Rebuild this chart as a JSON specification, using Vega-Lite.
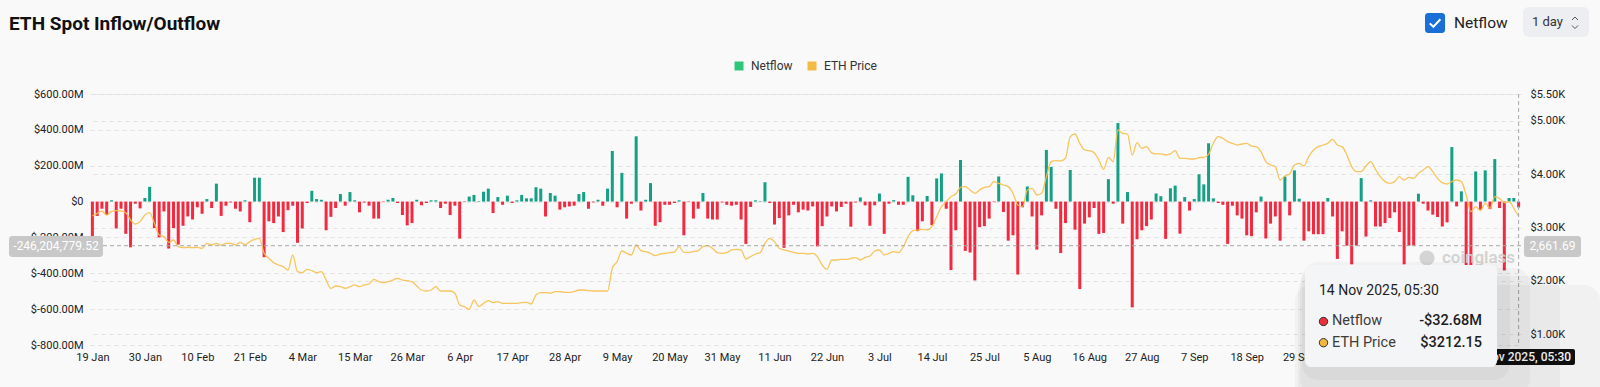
{
"$schema": "https://vega.github.io/schema/vega-lite/v6.json",
"width": 1431, "height": 251,
"autosize": {"type": "none"},
"padding": {"left": 90, "top": 94, "right": 79, "bottom": 42},
"background": "#f9f9f9",
"config": {"view": {"stroke": null}, "font": "Roboto",
  "axis": {"domain": false, "ticks": false, "labelFont": "Roboto", "labelFontSize": 11, "labelColor": "#222", "gridColor": "#e3e3e3", "gridDash": [4, 4], "gridWidth": 1, "labelOverlap": false}},
"data": {"values": [
{"date":"2025-01-19","netflow":-230,"price":3216},{"date":"2025-01-20","netflow":-80,"price":3266},{"date":"2025-01-21","netflow":-40,"price":3309},{"date":"2025-01-22","netflow":-75,"price":3234},{"date":"2025-01-23","netflow":7,"price":3297},{"date":"2025-01-24","netflow":-150,"price":3315},{"date":"2025-01-25","netflow":-40,"price":3309},{"date":"2025-01-26","netflow":-180,"price":3278},{"date":"2025-01-27","netflow":-255,"price":3141},{"date":"2025-01-28","netflow":-12,"price":3066},{"date":"2025-01-29","netflow":-38,"price":3110},{"date":"2025-01-30","netflow":20,"price":3234},{"date":"2025-01-31","netflow":82,"price":3278},
{"date":"2025-02-01","netflow":-148,"price":3078},{"date":"2025-02-02","netflow":-200,"price":2860},{"date":"2025-02-03","netflow":-55,"price":2829},{"date":"2025-02-04","netflow":-262,"price":2723},{"date":"2025-02-05","netflow":-148,"price":2766},{"date":"2025-02-06","netflow":-240,"price":2641},{"date":"2025-02-07","netflow":-135,"price":2623},{"date":"2025-02-08","netflow":-83,"price":2629},{"date":"2025-02-09","netflow":-100,"price":2623},{"date":"2025-02-10","netflow":-32,"price":2629},{"date":"2025-02-11","netflow":-68,"price":2610},{"date":"2025-02-12","netflow":14,"price":2704},{"date":"2025-02-13","netflow":-36,"price":2673},{"date":"2025-02-14","netflow":100,"price":2704},{"date":"2025-02-15","netflow":-80,"price":2666},{"date":"2025-02-16","netflow":-23,"price":2704},{"date":"2025-02-17","netflow":-5,"price":2704},{"date":"2025-02-18","netflow":-40,"price":2673},{"date":"2025-02-19","netflow":-55,"price":2723},{"date":"2025-02-20","netflow":7,"price":2679},{"date":"2025-02-21","netflow":-115,"price":2735},{"date":"2025-02-22","netflow":133,"price":2779},{"date":"2025-02-23","netflow":133,"price":2797},{"date":"2025-02-24","netflow":-310,"price":2517},{"date":"2025-02-25","netflow":-110,"price":2423},{"date":"2025-02-26","netflow":-120,"price":2342},{"date":"2025-02-27","netflow":-83,"price":2298},{"date":"2025-02-28","netflow":-170,"price":2267},
{"date":"2025-03-01","netflow":-48,"price":2204},{"date":"2025-03-02","netflow":-23,"price":2485},{"date":"2025-03-03","netflow":-230,"price":2173},{"date":"2025-03-04","netflow":-150,"price":2155},{"date":"2025-03-05","netflow":-8,"price":2217},{"date":"2025-03-06","netflow":60,"price":2192},{"date":"2025-03-07","netflow":14,"price":2155},{"date":"2025-03-08","netflow":10,"price":2173},{"date":"2025-03-09","netflow":-160,"price":2017},{"date":"2025-03-10","netflow":-85,"price":1861},{"date":"2025-03-11","netflow":-36,"price":1905},{"date":"2025-03-12","netflow":42,"price":1892},{"date":"2025-03-13","netflow":-23,"price":1861},{"date":"2025-03-14","netflow":53,"price":1892},{"date":"2025-03-15","netflow":7,"price":1924},{"date":"2025-03-16","netflow":-60,"price":1892},{"date":"2025-03-17","netflow":-5,"price":1924},{"date":"2025-03-18","netflow":-23,"price":1942},{"date":"2025-03-19","netflow":-95,"price":2030},{"date":"2025-03-20","netflow":-95,"price":1986},{"date":"2025-03-21","netflow":-3,"price":1967},{"date":"2025-03-22","netflow":10,"price":1986},{"date":"2025-03-23","netflow":20,"price":2017},{"date":"2025-03-24","netflow":-8,"price":2048},{"date":"2025-03-25","netflow":-75,"price":2017},{"date":"2025-03-26","netflow":-133,"price":2005},{"date":"2025-03-27","netflow":-120,"price":1986},{"date":"2025-03-28","netflow":10,"price":1905},{"date":"2025-03-29","netflow":-21,"price":1830},{"date":"2025-03-30","netflow":-8,"price":1811},{"date":"2025-03-31","netflow":7,"price":1830},
{"date":"2025-04-01","netflow":7,"price":1892},{"date":"2025-04-02","netflow":-36,"price":1811},{"date":"2025-04-03","netflow":-12,"price":1811},{"date":"2025-04-04","netflow":-75,"price":1811},{"date":"2025-04-05","netflow":-23,"price":1768},{"date":"2025-04-06","netflow":-207,"price":1549},{"date":"2025-04-07","netflow":-3,"price":1518},{"date":"2025-04-08","netflow":28,"price":1468},{"date":"2025-04-09","netflow":37,"price":1643},{"date":"2025-04-10","netflow":3,"price":1518},{"date":"2025-04-11","netflow":55,"price":1580},{"date":"2025-04-12","netflow":72,"price":1630},{"date":"2025-04-13","netflow":-64,"price":1593},{"date":"2025-04-14","netflow":25,"price":1611},{"date":"2025-04-15","netflow":-18,"price":1580},{"date":"2025-04-16","netflow":33,"price":1580},{"date":"2025-04-17","netflow":-8,"price":1580},{"date":"2025-04-18","netflow":7,"price":1580},{"date":"2025-04-19","netflow":37,"price":1593},{"date":"2025-04-20","netflow":18,"price":1599},{"date":"2025-04-21","netflow":18,"price":1568},{"date":"2025-04-22","netflow":80,"price":1736},{"date":"2025-04-23","netflow":72,"price":1780},{"date":"2025-04-24","netflow":-83,"price":1780},{"date":"2025-04-25","netflow":48,"price":1768},{"date":"2025-04-26","netflow":33,"price":1799},{"date":"2025-04-27","netflow":-45,"price":1799},{"date":"2025-04-28","netflow":-32,"price":1786},{"date":"2025-04-29","netflow":-27,"price":1786},{"date":"2025-04-30","netflow":-23,"price":1799},
{"date":"2025-05-01","netflow":42,"price":1830},{"date":"2025-05-02","netflow":53,"price":1830},{"date":"2025-05-03","netflow":-40,"price":1817},{"date":"2025-05-04","netflow":-5,"price":1811},{"date":"2025-05-05","netflow":10,"price":1811},{"date":"2025-05-06","netflow":-23,"price":1811},{"date":"2025-05-07","netflow":72,"price":1811},{"date":"2025-05-08","netflow":282,"price":2236},{"date":"2025-05-09","netflow":-32,"price":2360},{"date":"2025-05-10","netflow":160,"price":2560},{"date":"2025-05-11","netflow":-95,"price":2517},{"date":"2025-05-12","netflow":-12,"price":2485},{"date":"2025-05-13","netflow":364,"price":2673},{"date":"2025-05-14","netflow":-50,"price":2567},{"date":"2025-05-15","netflow":10,"price":2548},{"date":"2025-05-16","netflow":103,"price":2517},{"date":"2025-05-17","netflow":-135,"price":2473},{"date":"2025-05-18","netflow":-115,"price":2504},{"date":"2025-05-19","netflow":-18,"price":2517},{"date":"2025-05-20","netflow":-18,"price":2529},{"date":"2025-05-21","netflow":-8,"price":2541},{"date":"2025-05-22","netflow":7,"price":2641},{"date":"2025-05-23","netflow":-188,"price":2535},{"date":"2025-05-24","netflow":-3,"price":2535},{"date":"2025-05-25","netflow":-95,"price":2548},{"date":"2025-05-26","netflow":-40,"price":2567},{"date":"2025-05-27","netflow":48,"price":2641},{"date":"2025-05-28","netflow":-95,"price":2660},{"date":"2025-05-29","netflow":-100,"price":2610},{"date":"2025-05-30","netflow":-100,"price":2529},{"date":"2025-05-31","netflow":-5,"price":2517},
{"date":"2025-06-01","netflow":-18,"price":2529},{"date":"2025-06-02","netflow":-23,"price":2579},{"date":"2025-06-03","netflow":-18,"price":2591},{"date":"2025-06-04","netflow":-100,"price":2579},{"date":"2025-06-05","netflow":-236,"price":2410},{"date":"2025-06-06","netflow":-30,"price":2454},{"date":"2025-06-07","netflow":7,"price":2504},{"date":"2025-06-08","netflow":3,"price":2529},{"date":"2025-06-09","netflow":108,"price":2704},{"date":"2025-06-10","netflow":-8,"price":2797},{"date":"2025-06-11","netflow":-128,"price":2735},{"date":"2025-06-12","netflow":-92,"price":2610},{"date":"2025-06-13","netflow":-258,"price":2579},{"date":"2025-06-14","netflow":-77,"price":2560},{"date":"2025-06-15","netflow":-18,"price":2535},{"date":"2025-06-16","netflow":-60,"price":2517},{"date":"2025-06-17","netflow":-45,"price":2517},{"date":"2025-06-18","netflow":-50,"price":2504},{"date":"2025-06-19","netflow":-27,"price":2517},{"date":"2025-06-20","netflow":-250,"price":2454},{"date":"2025-06-21","netflow":-137,"price":2298},{"date":"2025-06-22","netflow":-83,"price":2217},{"date":"2025-06-23","netflow":-27,"price":2392},{"date":"2025-06-24","netflow":-55,"price":2392},{"date":"2025-06-25","netflow":-30,"price":2404},{"date":"2025-06-26","netflow":-12,"price":2404},{"date":"2025-06-27","netflow":-140,"price":2423},{"date":"2025-06-28","netflow":-5,"price":2435},{"date":"2025-06-29","netflow":23,"price":2392},{"date":"2025-06-30","netflow":-21,"price":2442},
{"date":"2025-07-01","netflow":-135,"price":2467},{"date":"2025-07-02","netflow":-21,"price":2560},{"date":"2025-07-03","netflow":45,"price":2579},{"date":"2025-07-04","netflow":-180,"price":2485},{"date":"2025-07-05","netflow":-12,"price":2517},{"date":"2025-07-06","netflow":8,"price":2548},{"date":"2025-07-07","netflow":-18,"price":2529},{"date":"2025-07-08","netflow":-18,"price":2641},{"date":"2025-07-09","netflow":138,"price":2829},{"date":"2025-07-10","netflow":35,"price":2941},{"date":"2025-07-11","netflow":-165,"price":2953},{"date":"2025-07-12","netflow":-110,"price":2966},{"date":"2025-07-13","netflow":31,"price":2953},{"date":"2025-07-14","netflow":-132,"price":3016},{"date":"2025-07-15","netflow":129,"price":3203},{"date":"2025-07-16","netflow":157,"price":3390},{"date":"2025-07-17","netflow":-40,"price":3484},{"date":"2025-07-18","netflow":-382,"price":3578},{"date":"2025-07-19","netflow":-160,"price":3628},{"date":"2025-07-20","netflow":232,"price":3752},{"date":"2025-07-21","netflow":-275,"price":3765},{"date":"2025-07-22","netflow":-284,"price":3703},{"date":"2025-07-23","netflow":-440,"price":3640},{"date":"2025-07-24","netflow":-143,"price":3703},{"date":"2025-07-25","netflow":-137,"price":3752},{"date":"2025-07-26","netflow":-95,"price":3765},{"date":"2025-07-27","netflow":-3,"price":3859},{"date":"2025-07-28","netflow":140,"price":3827},{"date":"2025-07-29","netflow":-58,"price":3796},{"date":"2025-07-30","netflow":-218,"price":3765},{"date":"2025-07-31","netflow":-188,"price":3640},
{"date":"2025-08-01","netflow":-407,"price":3422},{"date":"2025-08-02","netflow":-32,"price":3390},{"date":"2025-08-03","netflow":84,"price":3703},{"date":"2025-08-04","netflow":-83,"price":3734},{"date":"2025-08-05","netflow":-268,"price":3609},{"date":"2025-08-06","netflow":-77,"price":3640},{"date":"2025-08-07","netflow":288,"price":3952},{"date":"2025-08-08","netflow":193,"price":4233},{"date":"2025-08-09","netflow":-40,"price":4252},{"date":"2025-08-10","netflow":-287,"price":4246},{"date":"2025-08-11","netflow":-120,"price":4296},{"date":"2025-08-12","netflow":176,"price":4701},{"date":"2025-08-13","netflow":-157,"price":4751},{"date":"2025-08-14","netflow":-488,"price":4577},{"date":"2025-08-15","netflow":-123,"price":4452},{"date":"2025-08-16","netflow":-88,"price":4439},{"date":"2025-08-17","netflow":-36,"price":4402},{"date":"2025-08-18","netflow":-180,"price":4264},{"date":"2025-08-19","netflow":-175,"price":4090},{"date":"2025-08-20","netflow":125,"price":4314},{"date":"2025-08-21","netflow":-12,"price":4233},{"date":"2025-08-22","netflow":438,"price":4826},{"date":"2025-08-23","netflow":-123,"price":4764},{"date":"2025-08-24","netflow":53,"price":4751},{"date":"2025-08-25","netflow":-590,"price":4358},{"date":"2025-08-26","netflow":-210,"price":4589},{"date":"2025-08-27","netflow":-160,"price":4483},{"date":"2025-08-28","netflow":-137,"price":4514},{"date":"2025-08-29","netflow":-100,"price":4402},{"date":"2025-08-30","netflow":45,"price":4377},{"date":"2025-08-31","netflow":30,"price":4377},
{"date":"2025-09-01","netflow":-208,"price":4358},{"date":"2025-09-02","netflow":74,"price":4377},{"date":"2025-09-03","netflow":89,"price":4439},{"date":"2025-09-04","netflow":-179,"price":4296},{"date":"2025-09-05","netflow":25,"price":4296},{"date":"2025-09-06","netflow":-50,"price":4283},{"date":"2025-09-07","netflow":14,"price":4283},{"date":"2025-09-08","netflow":152,"price":4308},{"date":"2025-09-09","netflow":96,"price":4314},{"date":"2025-09-10","netflow":325,"price":4370},{"date":"2025-09-11","netflow":18,"price":4577},{"date":"2025-09-12","netflow":-8,"price":4701},{"date":"2025-09-13","netflow":-18,"price":4670},{"date":"2025-09-14","netflow":-236,"price":4608},{"date":"2025-09-15","netflow":-23,"price":4577},{"date":"2025-09-16","netflow":-77,"price":4545},{"date":"2025-09-17","netflow":-95,"price":4564},{"date":"2025-09-18","netflow":-188,"price":4577},{"date":"2025-09-19","netflow":-193,"price":4527},{"date":"2025-09-20","netflow":-60,"price":4514},{"date":"2025-09-21","netflow":28,"price":4420},{"date":"2025-09-22","netflow":-206,"price":4233},{"date":"2025-09-23","netflow":-123,"price":4171},{"date":"2025-09-24","netflow":-83,"price":4139},{"date":"2025-09-25","netflow":-218,"price":3890},{"date":"2025-09-26","netflow":140,"price":3965},{"date":"2025-09-27","netflow":-77,"price":4002},{"date":"2025-09-28","netflow":174,"price":4171},{"date":"2025-09-29","netflow":16,"price":4202},{"date":"2025-09-30","netflow":-218,"price":4152},
{"date":"2025-10-01","netflow":-166,"price":4327},{"date":"2025-10-02","netflow":-182,"price":4452},{"date":"2025-10-03","netflow":-182,"price":4514},{"date":"2025-10-04","netflow":-182,"price":4545},{"date":"2025-10-05","netflow":20,"price":4577},{"date":"2025-10-06","netflow":-83,"price":4651},{"date":"2025-10-07","netflow":-320,"price":4545},{"date":"2025-10-08","netflow":-166,"price":4514},{"date":"2025-10-09","netflow":-246,"price":4358},{"date":"2025-10-10","netflow":-350,"price":4139},{"date":"2025-10-11","netflow":-246,"price":4046},{"date":"2025-10-12","netflow":131,"price":4046},{"date":"2025-10-13","netflow":-195,"price":4152},{"date":"2025-10-14","netflow":7,"price":4233},{"date":"2025-10-15","netflow":-139,"price":4090},{"date":"2025-10-16","netflow":-139,"price":3952},{"date":"2025-10-17","netflow":-120,"price":3859},{"date":"2025-10-18","netflow":-92,"price":3827},{"date":"2025-10-19","netflow":-60,"price":3859},{"date":"2025-10-20","netflow":-170,"price":3952},{"date":"2025-10-21","netflow":-350,"price":3890},{"date":"2025-10-22","netflow":-246,"price":3940},{"date":"2025-10-23","netflow":-246,"price":3921},{"date":"2025-10-24","netflow":44,"price":4015},{"date":"2025-10-25","netflow":-12,"price":4077},{"date":"2025-10-26","netflow":-50,"price":4139},{"date":"2025-10-27","netflow":-73,"price":4046},{"date":"2025-10-28","netflow":-86,"price":3921},{"date":"2025-10-29","netflow":-139,"price":3840},{"date":"2025-10-30","netflow":-116,"price":3815},{"date":"2025-10-31","netflow":304,"price":3859},
{"date":"2025-11-01","netflow":-27,"price":3890},{"date":"2025-11-02","netflow":57,"price":3859},{"date":"2025-11-03","netflow":-380,"price":3609},{"date":"2025-11-04","netflow":-400,"price":3297},{"date":"2025-11-05","netflow":168,"price":3390},{"date":"2025-11-06","netflow":-45,"price":3316},{"date":"2025-11-07","netflow":174,"price":3453},{"date":"2025-11-08","netflow":-42,"price":3359},{"date":"2025-11-09","netflow":237,"price":3578},{"date":"2025-11-10","netflow":-36,"price":3546},{"date":"2025-11-11","netflow":-384,"price":3465},{"date":"2025-11-12","netflow":20,"price":3484},{"date":"2025-11-13","netflow":20,"price":3359},{"date":"2025-11-14","netflow":-32.68,"price":3212.15}
]},
"layer": [
 {"layer": [
   {"data": {"values": [{"series": "Netflow", "date": 1746748800000, "netflow": 5000}, {"series": "ETH Price", "date": 1746748800000, "netflow": 5000}]},
    "mark": {"type": "square", "clip": true, "opacity": 1, "size": 10},
    "encoding": {"x": {"field": "date", "type": "temporal"}, "y": {"field": "netflow", "type": "quantitative", "scale": {"domain": [-800, 600], "nice": false}, "axis": null},
      "color": {"field": "series", "type": "nominal", "scale": {"domain": ["Netflow", "ETH Price"], "range": ["#2DC67A", "#F2BB45"]},
        "legend": {"title": null, "orient": "none", "legendX": 643, "legendY": -34, "direction": "horizontal", "symbolType": "square", "symbolSize": 81, "symbolStrokeWidth": 0, "labelFontSize": 12, "labelColor": "#333", "labelFont": "Roboto", "labelOffset": 6, "columnPadding": 13, "padding": 0}}}}
 ]},
 {"mark": {"type": "bar", "size": 3},
  "encoding": {
    "x": {"field": "date", "type": "temporal", "scale": {"type": "utc", "domain": [1737201600000, 1763121600000], "padding": 0},
          "axis": {"title": null, "grid": false, "labelPadding": 6, "labelOverlap": false, "labelFlush": false, "labelBound": false,
                   "labelExpr": "utcFormat(datum.value, '%-d %b')",
                   "values": [1737244800000,1738195200000,1739145600000,1740096000000,1741046400000,1741996800000,1742947200000,1743897600000,1744848000000,1745798400000,1746748800000,1747699200000,1748649600000,1749600000000,1750550400000,1751500800000,1752451200000,1753401600000,1754352000000,1755302400000,1756252800000,1757203200000,1758153600000,1759104000000]}},
    "y": {"field": "netflow", "type": "quantitative", "scale": {"domain": [-800, 600], "nice": false},
          "axis": {"title": null, "orient": "left", "grid": true, "labelPadding": 7, "labelOverlap": false, "values": [-800, -600, -400, -200, 0, 200, 400, 600],
                   "labelExpr": "datum.value == 0 ? '$0' : '$' + (datum.value < 0 ? '-' : '') + format(abs(datum.value), '.2f') + 'M'"}},
    "color": {"condition": {"test": "datum.netflow < 0", "value": "#F2293F"}, "value": "#14A085"}
  }},
 {"mark": {"type": "line", "interpolate": "monotone", "strokeWidth": 1.3, "color": "#F6C04C", "opacity": 0.9},
  "encoding": {"x": {"field": "date", "type": "temporal"},
    "y": {"field": "price", "type": "quantitative", "scale": {"domain": [800, 5500], "nice": false, "zero": false},
          "axis": {"title": null, "orient": "right", "grid": true, "labelPadding": 9, "labelOverlap": false, "values": [1000, 2000, 3000, 4000, 5000, 5500],
                   "labelExpr": "'$' + format(datum.value / 1000, '.2f') + 'K'"}}}},
 {"layer": [
   {"data": {"values": [{"date": 1761418958428, "netflow": -314.7}]},
    "mark": {"type": "circle", "size": 230, "color": "#cfcfcf", "opacity": 0.9},
    "encoding": {"x": {"field": "date", "type": "temporal"}, "y": {"field": "netflow", "type": "quantitative", "scale": {"domain": [-800, 600], "nice": false}, "axis": null}}},
   {"data": {"values": [{"date": 1761690656540, "netflow": -314.7, "label": "coinglass"}]},
    "mark": {"type": "text", "align": "left", "baseline": "middle", "fontSize": 17, "fontWeight": 600, "color": "#cfcfcf", "opacity": 0.9, "font": "Roboto"},
    "encoding": {"x": {"field": "date", "type": "temporal"}, "y": {"field": "netflow", "type": "quantitative", "scale": {"domain": [-800, 600], "nice": false}, "axis": null}, "text": {"field": "label"}}},
   {"data": {"values": [{"netflow": -246.2}]},
    "mark": {"type": "rule", "color": "#a8a8a8", "strokeDash": [4, 3], "strokeWidth": 1},
    "encoding": {"y": {"field": "netflow", "type": "quantitative", "scale": {"domain": [-800, 600], "nice": false}, "axis": null}}},
   {"data": {"values": [{"date": 1763078400000}]},
    "mark": {"type": "rule", "color": "#a8a8a8", "strokeDash": [4, 3], "strokeWidth": 1},
    "encoding": {"x": {"field": "date", "type": "temporal"}}},
   {"data": {"values": [{"date": 1735734430193, "date2": 1737437071698, "netflow": -192.0, "netflow2": -309.2}, {"date": 1763175939555, "date2": 1764208392383, "netflow": -192.0, "netflow2": -309.2}]},
    "mark": {"type": "rect", "color": "#c8c8c8", "cornerRadius": 3},
    "encoding": {"x": {"field": "date", "type": "temporal"}, "x2": {"field": "date2"}, "y": {"field": "netflow", "type": "quantitative", "scale": {"domain": [-800, 600], "nice": false}, "axis": null}, "y2": {"field": "netflow2"}}},
   {"data": {"values": [{"date": 1736585750945, "netflow": -246.2, "label": "-246,204,779.52"}, {"date": 1763692165969, "netflow": -246.2, "label": "2,661.69"}]},
    "mark": {"type": "text", "align": "center", "baseline": "middle", "fontSize": 12, "color": "#ffffff", "font": "Roboto"},
    "encoding": {"x": {"field": "date", "type": "temporal"}, "y": {"field": "netflow", "type": "quantitative", "scale": {"domain": [-800, 600], "nice": false}, "axis": null}, "text": {"field": "label"}}},
   {"data": {"values": [{"date": 1762071033898, "date2": 1764099713138, "netflow": -822.3, "netflow2": -911.6}]},
    "mark": {"type": "rect", "color": "#111111", "cornerRadius": 2},
    "encoding": {"x": {"field": "date", "type": "temporal"}, "x2": {"field": "date2"}, "y": {"field": "netflow", "type": "quantitative", "scale": {"domain": [-800, 600], "nice": false}, "axis": null}, "y2": {"field": "netflow2"}}},
   {"data": {"values": [{"date": 1763085373518, "netflow": -866.9, "label": "14 Nov 2025, 05:30"}]},
    "mark": {"type": "text", "align": "center", "baseline": "middle", "fontSize": 12, "fontWeight": 500, "color": "#ffffff", "font": "Roboto"},
    "encoding": {"x": {"field": "date", "type": "temporal"}, "y": {"field": "netflow", "type": "quantitative", "scale": {"domain": [-800, 600], "nice": false}, "axis": null}, "text": {"field": "label"}}},
   {"data": {"values": [{"date": 1759028015038, "date2": 1764552543325, "netflow": -465.3, "netflow2": -1274.1}, {"date": 1759082354660, "date2": 1763828015025, "netflow": -415.1, "netflow2": -1162.6}, {"date": 1759118581075, "date2": 1763284618800, "netflow": -370.5, "netflow2": -1078.9}, {"date": 1759154807490, "date2": 1762922354650, "netflow": -337.1, "netflow2": -995.2}]},
    "mark": {"type": "rect", "color": "#000000", "opacity": 0.03, "cornerRadius": 16},
    "encoding": {"x": {"field": "date", "type": "temporal"}, "x2": {"field": "date2"}, "y": {"field": "netflow", "type": "quantitative", "scale": {"domain": [-800, 600], "nice": false}, "axis": null}, "y2": {"field": "netflow2"}}},
   {"data": {"values": [{"date": 1759209147113, "date2": 1762686883003, "netflow": -353.8, "netflow2": -922.7}]},
    "mark": {"type": "rect", "color": "#f4f5f7", "cornerRadius": 6},
    "encoding": {"x": {"field": "date", "type": "temporal"}, "x2": {"field": "date2"}, "y": {"field": "netflow", "type": "quantitative", "scale": {"domain": [-800, 600], "nice": false}, "axis": null}, "y2": {"field": "netflow2"}}},
   {"data": {"values": [{"date": 1759462732018, "netflow": -498.8, "label": "14 Nov 2025, 05:30"}]},
    "mark": {"type": "text", "align": "left", "baseline": "middle", "fontSize": 14, "color": "#1e1e1e", "font": "Roboto"},
    "encoding": {"x": {"field": "date", "type": "temporal"}, "y": {"field": "netflow", "type": "quantitative", "scale": {"domain": [-800, 600], "nice": false}, "axis": null}, "text": {"field": "label"}}},
   {"data": {"values": [{"date": 1759698203715, "netflow": -668.9, "label": "Netflow"}, {"date": 1759698203715, "netflow": -787.2, "label": "ETH Price"}]},
    "mark": {"type": "text", "align": "left", "baseline": "middle", "fontSize": 14.5, "color": "#3c3c3c", "font": "Roboto"},
    "encoding": {"x": {"field": "date", "type": "temporal"}, "y": {"field": "netflow", "type": "quantitative", "scale": {"domain": [-800, 600], "nice": false}, "axis": null}, "text": {"field": "label"}}},
   {"data": {"values": [{"date": 1762415184840, "netflow": -668.9, "label": "-$32.68M"}, {"date": 1762415184840, "netflow": -787.2, "label": "$3212.15"}]},
    "mark": {"type": "text", "align": "right", "baseline": "middle", "fontSize": 14.5, "fontWeight": 500, "color": "#1e1e1e", "font": "Roboto"},
    "encoding": {"x": {"field": "date", "type": "temporal"}, "y": {"field": "netflow", "type": "quantitative", "scale": {"domain": [-800, 600], "nice": false}, "axis": null}, "text": {"field": "label"}}},
   {"data": {"values": [{"date": 1759544241451, "netflow": -668.9, "kind": "n"}, {"date": 1759544241451, "netflow": -787.2, "kind": "p"}]},
    "mark": {"type": "point", "filled": true, "size": 70, "stroke": "#333333", "strokeWidth": 1, "opacity": 1},
    "encoding": {"x": {"field": "date", "type": "temporal"}, "y": {"field": "netflow", "type": "quantitative", "scale": {"domain": [-800, 600], "nice": false}, "axis": null},
      "fill": {"condition": {"test": "datum.kind == 'n'", "value": "#E8323E"}, "value": "#F0B93B"}}},
   {"data": {"values": [{"date": 1735734430193, "netflow": 957.0, "label": "ETH Spot Inflow/Outflow"}]},
    "mark": {"type": "text", "align": "left", "baseline": "alphabetic", "fontSize": 19, "fontWeight": "bold", "color": "#111111", "font": "Roboto"},
    "encoding": {"x": {"field": "date", "type": "temporal"}, "y": {"field": "netflow", "type": "quantitative", "scale": {"domain": [-800, 600], "nice": false}, "axis": null}, "text": {"field": "label"}}},
   {"data": {"values": [{"date": 1761382732013, "date2": 1761745996163, "netflow": 1051.8, "netflow2": 940.2}]},
    "mark": {"type": "rect", "color": "#1A6FD6", "cornerRadius": 3},
    "encoding": {"x": {"field": "date", "type": "temporal"}, "x2": {"field": "date2"}, "y": {"field": "netflow", "type": "quantitative", "scale": {"domain": [-800, 600], "nice": false}, "axis": null}, "y2": {"field": "netflow2"}}},
   {"data": {"values": [{"date": 1761563864088, "netflow": 996.0}]},
    "mark": {"type": "point", "shape": "M-0.7,0.05L-0.22,0.5L0.72,-0.5", "size": 225, "filled": false, "stroke": "#ffffff", "strokeWidth": 2, "opacity": 1},
    "encoding": {"x": {"field": "date", "type": "temporal"}, "y": {"field": "netflow", "type": "quantitative", "scale": {"domain": [-800, 600], "nice": false}, "axis": null}}},
   {"data": {"values": [{"date": 1761908015030, "netflow": 996.0, "label": "Netflow"}]},
    "mark": {"type": "text", "align": "left", "baseline": "middle", "fontSize": 15.5, "color": "#222222", "font": "Roboto"},
    "encoding": {"x": {"field": "date", "type": "temporal"}, "y": {"field": "netflow", "type": "quantitative", "scale": {"domain": [-800, 600], "nice": false}, "axis": null}, "text": {"field": "label"}}},
   {"data": {"values": [{"date": 1763157826348, "date2": 1764353298043, "netflow": 1085.3, "netflow2": 917.9}]},
    "mark": {"type": "rect", "color": "#eceef2", "cornerRadius": 6},
    "encoding": {"x": {"field": "date", "type": "temporal"}, "x2": {"field": "date2"}, "y": {"field": "netflow", "type": "quantitative", "scale": {"domain": [-800, 600], "nice": false}, "axis": null}, "y2": {"field": "netflow2"}}},
   {"data": {"values": [{"date": 1763320845215, "netflow": 1001.6, "label": "1 day"}]},
    "mark": {"type": "text", "align": "left", "baseline": "middle", "fontSize": 13, "color": "#333333", "font": "Roboto"},
    "encoding": {"x": {"field": "date", "type": "temporal"}, "y": {"field": "netflow", "type": "quantitative", "scale": {"domain": [-800, 600], "nice": false}, "axis": null}, "text": {"field": "label"}}},
   {"data": {"values": [{"date": 1764099713138, "netflow": 1021.1}]},
    "mark": {"type": "point", "shape": "M-1,0.5L0,-0.5L1,0.5", "size": 36, "filled": false, "stroke": "#555555", "strokeWidth": 1, "opacity": 1},
    "encoding": {"x": {"field": "date", "type": "temporal"}, "y": {"field": "netflow", "type": "quantitative", "scale": {"domain": [-800, 600], "nice": false}, "axis": null}}},
   {"data": {"values": [{"date": 1764099713138, "netflow": 973.7}]},
    "mark": {"type": "point", "shape": "M-1,-0.5L0,0.5L1,-0.5", "size": 36, "filled": false, "stroke": "#555555", "strokeWidth": 1, "opacity": 1},
    "encoding": {"x": {"field": "date", "type": "temporal"}, "y": {"field": "netflow", "type": "quantitative", "scale": {"domain": [-800, 600], "nice": false}, "axis": null}}}
 ]}
],
"resolve": {"scale": {"y": "independent"}}
}
